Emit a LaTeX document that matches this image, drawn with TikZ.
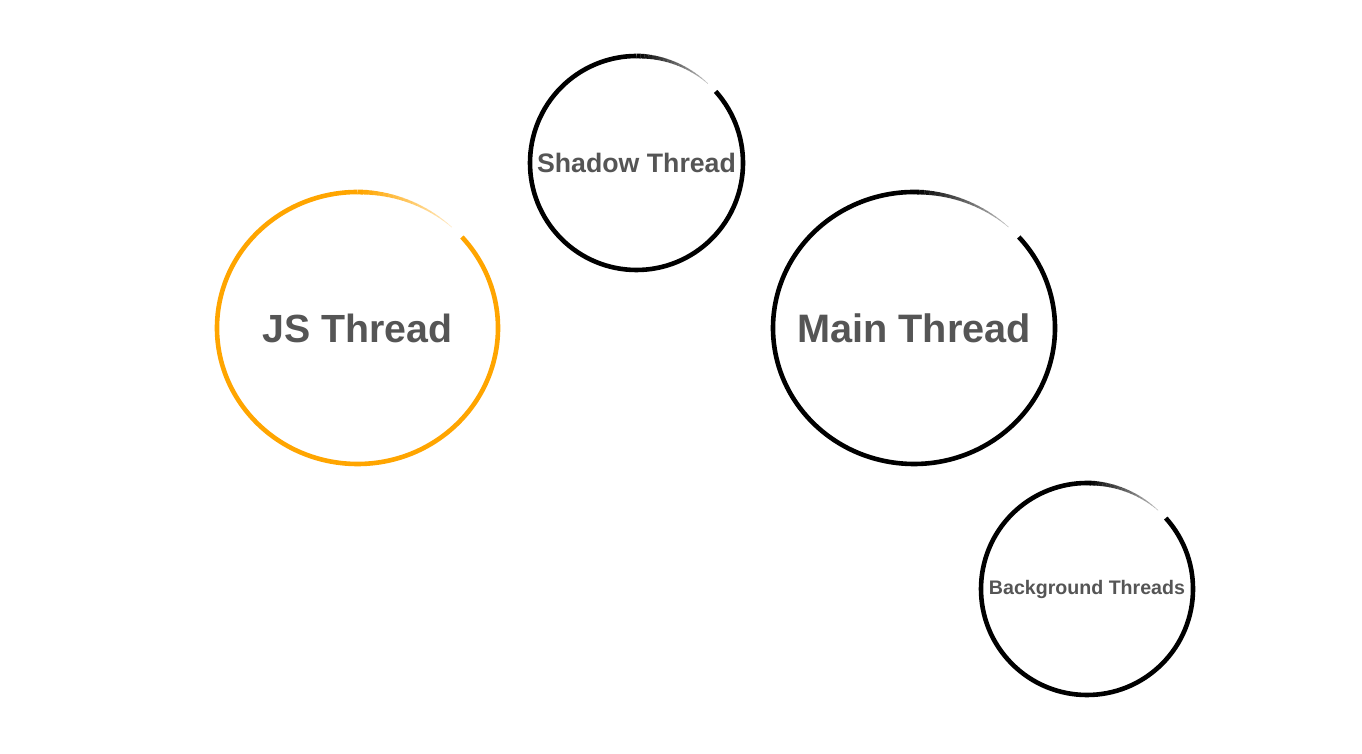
\documentclass[tikz,border=0pt]{standalone}
\usepackage{fontspec}
\setmainfont{Liberation Sans}
\definecolor{labelgray}{HTML}{555555}
\definecolor{jsorange}{HTML}{FFA500}
\newcommand\threadring[4]{%
  \draw[#4, line width=4.6pt] (#1.center) ++(42:#2 and #3)
    arc[start angle=42, end angle=-270, x radius=#2, y radius=#3];
  \foreach \i in {0,...,19}{%
    \pgfmathsetmacro\ra{90-\i*2.1}%
    \pgfmathsetmacro\rb{\ra-2.2}%
    \pgfmathsetmacro\rw{4.6*(1-\i/20)+0.3}%
    \pgfmathtruncatemacro\rp{100-\i*4}%
    \draw[#4!\rp!white, line width=\rw pt] (#1.center) ++(\ra:#2 and #3)
      arc[start angle=\ra, end angle=\rb, x radius=#2, y radius=#3];
  }%
}
\begin{document}
\begin{tikzpicture}[x=1pt,y=1pt,
  lbl/.style={text=labelgray, font=\bfseries, inner sep=0pt}]
\useasboundingbox[fill=white] (0,0) rectangle (1362,754);
\node[lbl, font=\bfseries\fontsize{39.3}{39.3}\selectfont] (js) at (357.5,426) {JS Thread};
\node[lbl, font=\bfseries\fontsize{39.7}{39.7}\selectfont] (main) at (914,426) {Main Thread};
\node[lbl, font=\bfseries\fontsize{26.7}{26.7}\selectfont] (shadow) at (636.5,591) {Shadow Thread};
\node[lbl, font=\bfseries\fontsize{19.6}{19.6}\selectfont] (bg) at (1087,165) {Background Threads};
\threadring{js}{140.5}{136}{jsorange}
\threadring{main}{141}{136}{black}
\threadring{shadow}{106.5}{107}{black}
\threadring{bg}{106}{106}{black}
\end{tikzpicture}
\end{document}
